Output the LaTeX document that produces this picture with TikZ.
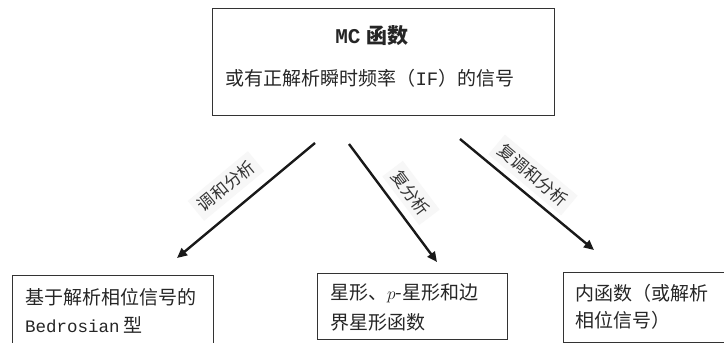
\documentclass[tikz,border=0pt]{standalone}
\usepackage{fontspec}
\setmainfont{Noto Sans CJK SC}
\newfontfamily\lat{Liberation Mono}
\usetikzlibrary{arrows.meta}
\newcommand\bodyfs{\fontsize{19}{28}\selectfont}
\begin{document}
\begin{tikzpicture}[x=1pt,y=-1pt,
  boxnode/.style={draw=black!80,line width=0.9pt,rectangle,inner sep=0pt,anchor=north west},
  txtnode/.style={anchor=base west,inner sep=0pt,text=black!85,font=\bodyfs},
  ctrtxt/.style={anchor=base,inner sep=0pt,text=black!85},
  arr/.style={line width=2.4pt,draw=black!90,-{Triangle[length=10pt,width=9pt]}},
  lbl/.style={fill=black!3,inner sep=5pt,text=black!80,font=\fontsize{17}{20}\selectfont}]
\useasboundingbox (0,0) rectangle (724,343);
\clip (0,0) rectangle (724,343);
\fill[white] (0,0) rectangle (724,343);
% boxes
\node[boxnode,minimum width=342pt,minimum height=107pt] (top) at (212,8) {};
\node[boxnode,minimum width=201pt,minimum height=100pt] (bl) at (12,275) {};
\node[boxnode,minimum width=190pt,minimum height=66pt] (bm) at (317,273) {};
\node[boxnode,minimum width=175pt,minimum height=69.5pt] (br) at (563,272) {};
% top texts
\node[ctrtxt,font=\bfseries\fontsize{21}{24}\selectfont] (title) at (372,43) {{\lat MC}\hspace{6pt}函数};
\node[ctrtxt,font=\bodyfs] (sub) at (370,85) {或有正解析瞬时频率（{\lat IF}）的信号};
% bottom texts
\node[txtnode] (bl1) at (25,304) {基于解析相位信号的};
\node[txtnode] (bl2) at (25,332) {{\lat\fontsize{17.5}{20}\selectfont Bedrosian}\hspace{4pt}型};
\node[txtnode] (bm1) at (330,299) {星形、$p$-星形和边};
\node[txtnode] (bm2) at (330,329) {界星形函数};
\node[txtnode] (br1) at (575,300) {内函数（或解析};
\node[txtnode] (br2) at (575,327) {相位信号）};
% labels (drawn first so arrows lie on top)
\node[lbl,rotate=39.6] (l1) at (226,186) {调和分析};
\node[lbl,rotate=-53] (l2) at (411,193) {复分析};
\node[lbl,rotate=-40] (l3) at (533,175) {复调和分析};
% arrows
\coordinate (s1) at (315,143);
\coordinate (e1) at (177,258);
\coordinate (s2) at (349,144);
\coordinate (e2) at (437,262);
\coordinate (s3) at (460,139);
\coordinate (e3) at (594,250);
\draw[arr] (s1) -- (e1);
\draw[arr] (s2) -- (e2);
\draw[arr] (s3) -- (e3);
\end{tikzpicture}
\end{document}
